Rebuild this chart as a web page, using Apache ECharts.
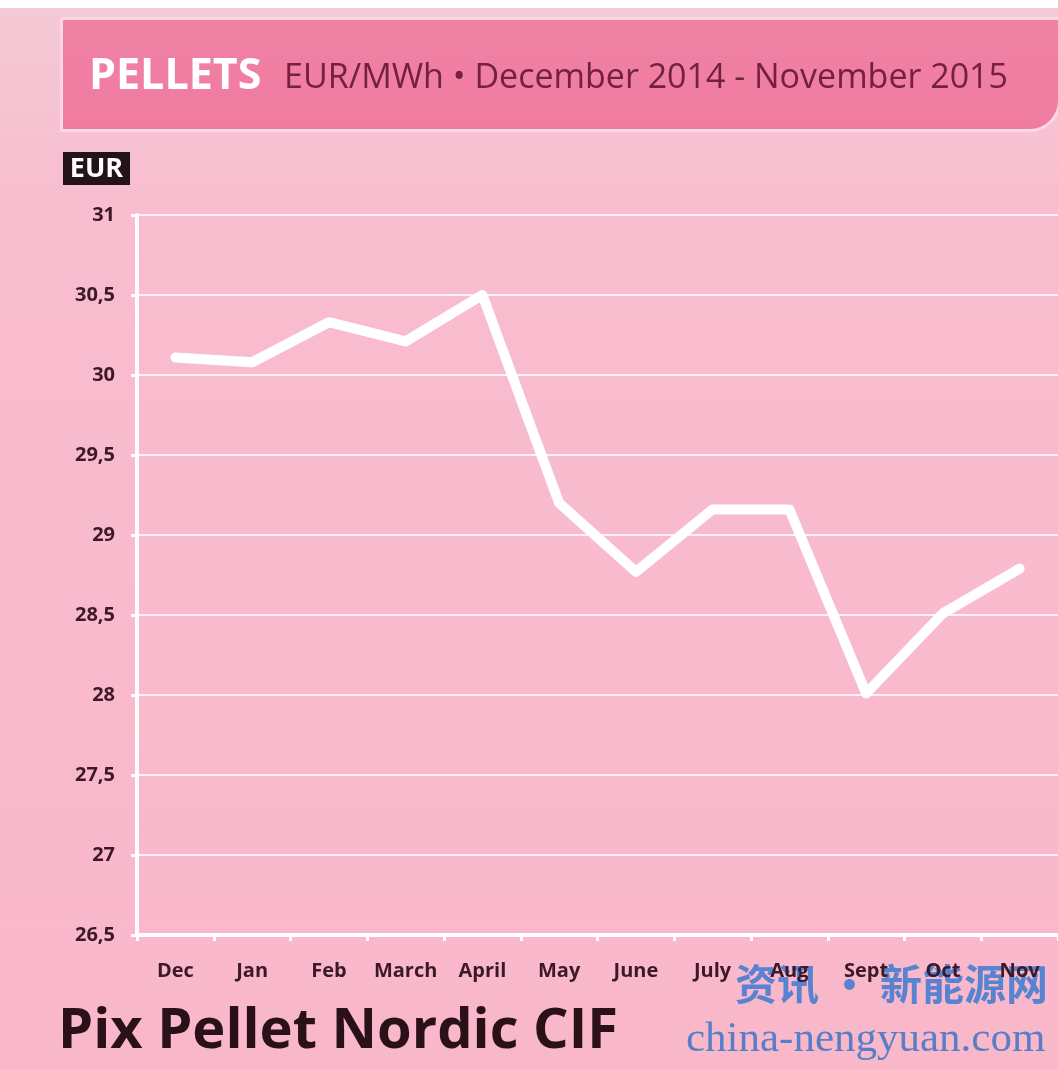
<!DOCTYPE html>
<html lang="en">

<head>
    <meta charset="UTF-8">
    <title>Pix Pellet Nordic CIF</title>
    <script src="https://cdn.jsdelivr.net/npm/echarts@6/dist/echarts.min.js"></script>
    <style>
        html, body { margin: 0; padding: 0; background: #fff; }
        #chart { width: 1058px; height: 1070px; }
    </style>
</head>

<body>
    <div id="chart"></div>
</body>
<script>
    // data
    var months = ['Dec', 'Jan', 'Feb', 'March', 'April', 'May', 'June', 'July', 'Aug', 'Sept', 'Oct', 'Nov'];
    var prices = [30.11, 30.08, 30.33, 30.21, 30.5, 29.2, 28.77, 29.16, 29.16, 28.01, 28.51, 28.79];
    var yMin = 26.5, yMax = 31, yStep = 0.5;

    var titleBold = 'PELLETS';
    var titleRest = 'EUR/MWh \u2022 December 2014 - November 2015';
    var unitText = 'EUR';
    var footText = 'Pix Pellet Nordic CIF';

    var darkText = '#3b1a26';
    var fontMain = '"Open Sans", "Noto Sans", sans-serif';

    var chart = echarts.init(document.getElementById('chart'));
    var option = {
        backgroundColor: {
            type: 'linear', x: 0, y: 0, x2: 0, y2: 1,
            colorStops: [
                { offset: 0, color: '#f4c9d6' },
                { offset: 0.2, color: '#f8bdcf' },
                { offset: 1, color: '#f9b7ca' }
            ]
        },
        animation: false,
        grid: { left: 137, top: 215, width: 930, height: 720 },
        xAxis: {
            type: 'category',
            data: months,
            boundaryGap: true,
            axisLine: { lineStyle: { color: '#fff', width: 4 } },
            axisTick: { show: true, length: 6, lineStyle: { color: '#fff', width: 3 } },
            axisLabel: {
                interval: 0, margin: 26,
                color: darkText, fontFamily: fontMain, fontWeight: 'bold', fontSize: 20
            },
            splitLine: { show: false }
        },
        yAxis: {
            type: 'value',
            min: yMin, max: yMax, interval: yStep,
            axisLine: { show: true, lineStyle: { color: '#fff', width: 4 } },
            axisTick: { show: true, length: 6, lineStyle: { color: '#fff', width: 3 } },
            axisLabel: {
                margin: 22,
                color: darkText, fontFamily: fontMain, fontWeight: 'bold', fontSize: 20,
                formatter: function (v) { return String(v).replace('.', ','); }
            },
            splitLine: { show: true, lineStyle: { color: 'rgba(255,255,255,0.8)', width: 2 } }
        },
        series: [{
            type: 'line',
            data: prices,
            symbol: 'none',
            lineStyle: { color: '#fff', width: 10, cap: 'round', join: 'round' }
        }],
        graphic: [
            // white strip along the top edge
            { type: 'rect', left: 0, top: 0, shape: { width: 1058, height: 8 }, style: { fill: '#fff' } },
            // header band
            {
                type: 'rect', left: 60, top: 17,
                shape: { width: 998, height: 112, r: [0, 0, 30, 0] },
                style: {
                    fill: {
                        type: 'linear', x: 0, y: 0, x2: 0, y2: 1,
                        colorStops: [{ offset: 0, color: '#ef82a4' }, { offset: 1, color: '#f07ba0' }]
                    },
                    stroke: '#fbd8e3', lineWidth: 3
                }
            },
            {
                type: 'text', x: 89, y: 77,
                style: {
                    text: titleBold, fontFamily: fontMain, fontWeight: 'bold', fontSize: 43, fill: '#fff',
                    verticalAlign: 'middle'
                }
            },
            {
                type: 'text', x: 284, y: 78,
                style: {
                    text: titleRest, fontFamily: fontMain, fontSize: 34, fill: '#74203f',
                    verticalAlign: 'middle'
                }
            },
            // unit box
            { type: 'rect', left: 63, top: 152, shape: { width: 67, height: 33 }, style: { fill: '#23121a' } },
            {
                type: 'text', x: 96.5, y: 169,
                style: {
                    text: unitText, fontFamily: fontMain, fontWeight: 'bold', fontSize: 27, fill: '#fff',
                    align: 'center', verticalAlign: 'middle'
                }
            },
            // bottom title
            {
                type: 'text', left: 58, top: 1004,
                style: { text: footText, fontFamily: fontMain, fontWeight: 'bold', fontSize: 56, fill: '#2a1119' }
            },
            // watermark
            {
                type: 'text', left: 735, top: 963,
                style: {
                    text: '资讯 · 新能源网', fontFamily: '"Noto Sans CJK SC"', fontWeight: 'bold',
                    fontSize: 42, fill: 'rgba(70,125,210,0.9)'
                }
            },
            {
                type: 'text', left: 686, top: 1018,
                style: {
                    text: 'china-nengyuan.com', fontFamily: '"Liberation Serif", "DejaVu Serif", serif',
                    fontSize: 43, fill: 'rgba(70,120,200,0.9)'
                }
            }
        ]
    };
    chart.setOption(option);
    window.onresize = function () {
        chart.resize();
    };
</script>

</html>
